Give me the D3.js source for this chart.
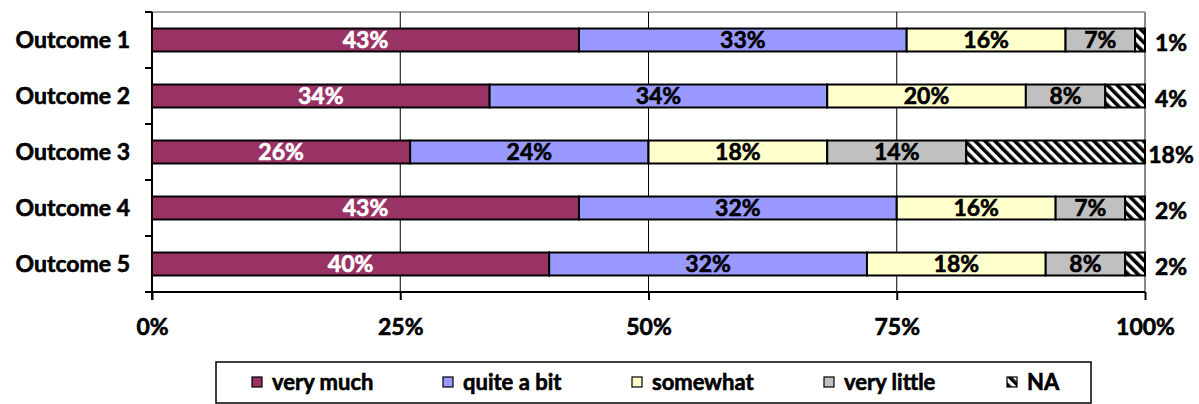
<!DOCTYPE html>
<html>
<head>
<meta charset="utf-8">
<script src="https://cdn.jsdelivr.net/npm/d3@7"></script>
<style>
  html, body { margin: 0; padding: 0; background: #fff; }
  svg { display: block; font-family: Lato, "Open Sans", sans-serif; font-weight: bold; }
  /* slightly heavier glyphs */
  text { stroke: currentColor; stroke-width: 0.6px; }
</style>
</head>
<body>
<svg id="chart" width="1199" height="404"></svg>
<script>
// Response shares per outcome (percent)
const categories = ["Outcome 1", "Outcome 2", "Outcome 3", "Outcome 4", "Outcome 5"];
const seriesNames = ["very much", "quite a bit", "somewhat", "very little", "NA"];
const veryMuch   = [43, 34, 26, 43, 40];
const quiteABit  = [33, 34, 24, 32, 32];
const somewhat   = [16, 20, 18, 16, 18];
const veryLittle = [7, 8, 14, 7, 8];
const notAnswered = [1, 4, 18, 2, 2];
const xTicks = [0, 25, 50, 75, 100];

const seriesValues = [veryMuch, quiteABit, somewhat, veryLittle, notAnswered];
const fills = ["#993366", "#9999FF", "#FFFFCC", "#C0C0C0", "url(#naStripes)"];
const labelColors = ["#fff", "#000", "#000", "#000", "#000"];

const svg = d3.select("#chart");
const margin = { left: 152, right: 54, top: 12, bottom: 112 };
const W = 1199, H = 404;
const x0 = margin.left, x1 = W - margin.right;
const y0 = margin.top, y1 = H - margin.bottom;
const fontSize = 23;

// Diagonal hatch for NA
const defs = svg.append("defs");
const pat = defs.append("pattern")
  .attr("id", "naStripes")
  .attr("patternUnits", "userSpaceOnUse")
  .attr("width", 7).attr("height", 7)
  .attr("patternTransform", "rotate(-45)");
pat.append("rect").attr("width", 7).attr("height", 7).attr("fill", "#fff");
pat.append("rect").attr("width", 3.6).attr("height", 7).attr("fill", "#000");

const x = d3.scaleLinear().domain([0, 100]).range([x0, x1]);
const y = d3.scaleBand().domain(categories).range([y0, y1]).paddingInner(0.59).paddingOuter(0.295);

// Stacked rows
const rows = categories.map((c, i) => {
  const r = { category: c };
  seriesNames.forEach((s, k) => r[s] = seriesValues[k][i]);
  return r;
});
const stacked = d3.stack().keys(seriesNames)(rows);

// Plot-area frame (top and right, grey)
svg.append("line").attr("x1", x0).attr("x2", x1).attr("y1", y0).attr("y2", y0)
  .attr("stroke", "#888").attr("stroke-width", 1.5);
svg.append("line").attr("x1", x1).attr("x2", x1).attr("y1", y0).attr("y2", y1)
  .attr("stroke", "#888").attr("stroke-width", 2);

// Vertical gridlines
svg.append("g").selectAll("line").data(xTicks.filter(t => t > 0 && t < 100)).join("line")
  .attr("x1", d => x(d)).attr("x2", d => x(d))
  .attr("y1", y0).attr("y2", y1)
  .attr("stroke", "#000").attr("stroke-width", 1);

// Bars
const layers = svg.append("g").selectAll("g").data(stacked).join("g")
  .attr("fill", (d, k) => fills[k]);
layers.selectAll("rect").data(d => d).join("rect")
  .attr("x", d => x(d[0]))
  .attr("width", d => x(d[1]) - x(d[0]))
  .attr("y", d => y(d.data.category))
  .attr("height", y.bandwidth())
  .attr("stroke", "#000").attr("stroke-width", 2);

// Value labels inside segments
stacked.forEach((layer, k) => {
  if (k === 4) return;
  svg.append("g").selectAll("text").data(layer).join("text")
    .attr("x", d => x((d[0] + d[1]) / 2))
    .attr("y", d => y(d.data.category) + y.bandwidth() / 2)
    .attr("dy", "0.36em")
    .attr("text-anchor", "middle")
    .attr("font-size", fontSize)
    .attr("fill", labelColors[k])
    .style("color", labelColors[k])
    .text(d => (d[1] - d[0]) + "%");
});

// NA labels to the right of the plot
svg.append("g").selectAll("text").data(stacked[4]).join("text")
  .attr("x", x1 + 26)
  .attr("y", d => y(d.data.category) + y.bandwidth() / 2 + 3)
  .attr("dy", "0.36em")
  .attr("text-anchor", "middle")
  .attr("font-size", fontSize)
  .attr("fill", "#000")
  .text(d => (d[1] - d[0]) + "%");

// Y axis: line, ticks at band boundaries, category labels
const yAxis = svg.append("g");
yAxis.append("line").attr("x1", x0).attr("x2", x0).attr("y1", y0).attr("y2", y1 + 8)
  .attr("stroke", "#000").attr("stroke-width", 2);
const bounds = d3.range(categories.length + 1).map(i => y0 + i * (y1 - y0) / categories.length);
yAxis.selectAll(".tk").data(bounds).join("line").attr("class", "tk")
  .attr("x1", x0 - 7).attr("x2", x0).attr("y1", d => d).attr("y2", d => d)
  .attr("stroke", "#000").attr("stroke-width", 2);
yAxis.selectAll("text").data(categories).join("text")
  .attr("x", 130)
  .attr("y", d => y(d) + y.bandwidth() / 2)
  .attr("dy", "0.36em")
  .attr("text-anchor", "end")
  .attr("font-size", fontSize)
  .text(d => d);

// X axis
const xAxis = svg.append("g").attr("transform", `translate(0,${y1})`)
  .call(d3.axisBottom(x).tickValues(xTicks).tickFormat(d => d + "%").tickSize(8).tickPadding(19));
xAxis.select(".domain").attr("stroke", "#000").attr("stroke-width", 2).attr("d", `M${x0},0H${x1}`);
xAxis.selectAll(".tick line").attr("stroke", "#000").attr("stroke-width", 2);
xAxis.selectAll(".tick text").attr("font-size", fontSize).attr("font-family", "Lato, sans-serif")
  .attr("font-weight", "bold").attr("fill", "#000").style("color", "#000");

// Legend
const legend = svg.append("g");
legend.append("rect").attr("x", 216).attr("y", 362).attr("width", 875).attr("height", 41)
  .attr("fill", "#fff").attr("stroke", "#000").attr("stroke-width", 1.5);
const legendX = [252, 443, 632, 824, 1007];
const items = legend.selectAll("g").data(seriesNames).join("g")
  .attr("transform", (d, k) => `translate(${legendX[k]},377)`);
items.append("rect").attr("width", 10).attr("height", 10)
  .attr("fill", (d, k) => fills[k]).attr("stroke", "#000").attr("stroke-width", 1.2);
items.append("text").attr("x", 20).attr("y", 5).attr("dy", "0.36em")
  .attr("font-size", 22).text(d => d);
</script>
</body>
</html>
